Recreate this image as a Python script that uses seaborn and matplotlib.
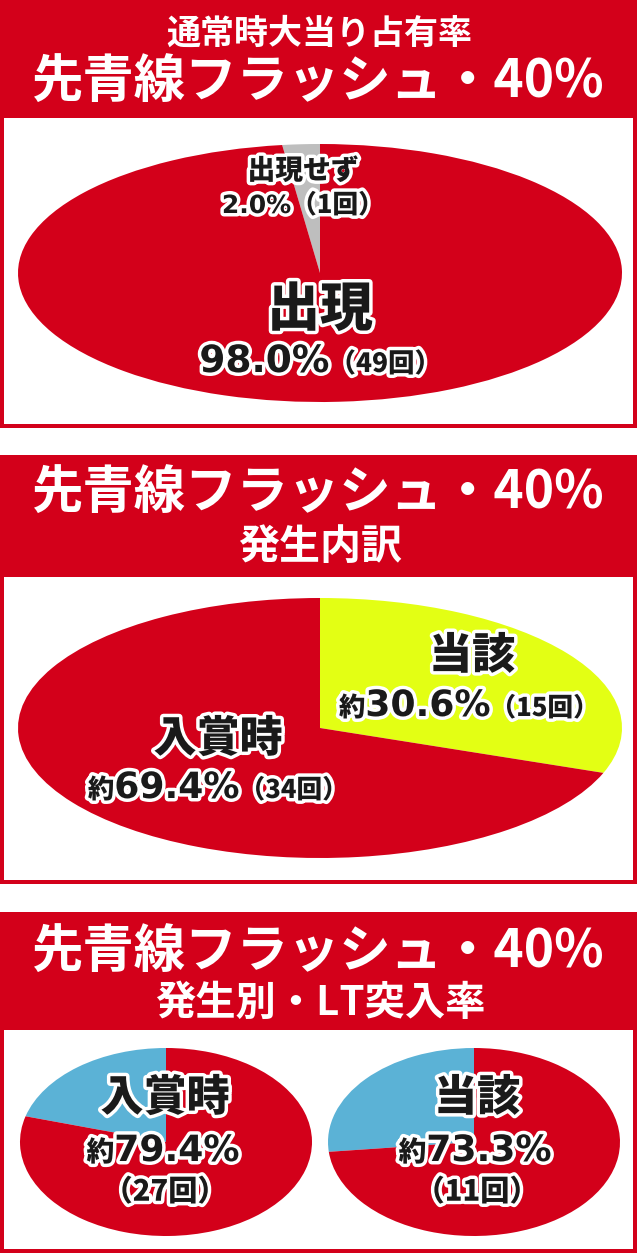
import seaborn as sns
import matplotlib.pyplot as plt
from matplotlib.patches import Rectangle
from matplotlib.offsetbox import TextArea, HPacker, AnnotationBbox
import matplotlib.patheffects as pe

# data
occ_labels = ['出現せず', '出現']
occ_counts = [1, 49]
occ_colors = ['#BEBEBE', '#D3001A']

brk_labels = ['当該', '入賞時']
brk_counts = [15, 34]
brk_colors = ['#E3FF14', '#D3001A']

lt_groups = ['入賞時', '当該']
lt_hits = [27, 11]
lt_totals = [34, 15]
lt_colors = ['#5BB2D6', '#D3001A']

title = '先青線フラッシュ・40%'
sub1 = '通常時大当り占有率'
sub2 = '発生内訳'
sub3 = '発生別・LT突入率'

sns.set_theme(style='white')
CJK = ['Noto Sans CJK JP', 'DejaVu Sans']
NUM = ['DejaVu Sans', 'Noto Sans CJK JP']
plt.rcParams['font.family'] = CJK

RED = '#D3001A'
INK = '#1A1A1A'
W, H = 640, 1255

fig = plt.figure(figsize=(W / 100, H / 100), dpi=100)
bg = fig.add_axes([0, 0, 1, 1])
bg.set_xlim(0, W)
bg.set_ylim(H, 0)
bg.axis('off')


def panel(y0, y_box, y1):
    bg.add_patch(Rectangle((0, y0), 637, y1 - y0, color=RED, lw=0))
    bg.add_patch(Rectangle((4, y_box), 629, y1 - y_box - 4, color='white', lw=0))


panel(0, 118, 428)
panel(455, 577, 884)
panel(912, 1030, 1253)


def pie_ax(cx, cy, rx, ry, values, colors, counterclock=True):
    ax = fig.add_axes([(cx - rx) / W, 1 - (cy + ry) / H, 2 * rx / W, 2 * ry / H])
    ax.pie(values, colors=colors, startangle=90, counterclock=counterclock,
           wedgeprops=dict(linewidth=0))
    ax.set_aspect('auto')
    ax.set_xlim(-1, 1)
    ax.set_ylim(-1, 1)
    ax.axis('off')
    return ax


pie_ax(320, 273, 302, 129, occ_counts, occ_colors)
pie_ax(320, 728, 302, 130, brk_counts, brk_colors, counterclock=False)
for i, cx in enumerate([166, 474]):
    pie_ax(cx, 1142, 146, 94, [lt_totals[i] - lt_hits[i], lt_hits[i]], lt_colors)

top = fig.add_axes([0, 0, 1, 1])
top.set_xlim(0, W)
top.set_ylim(H, 0)
top.axis('off')

# headers
hdr = dict(color='white', weight='bold', ha='center', va='center', family=CJK)
top.text(319, 33, sub1, fontsize=24.5, **hdr)
top.text(318, 82, title, fontsize=37, **hdr)
top.text(318, 493, title, fontsize=37, **hdr)
top.text(320, 547, sub2, fontsize=29.5, **hdr)
top.text(318, 952, title, fontsize=37, **hdr)
top.text(320, 1003, sub3, fontsize=29, **hdr)

halo = [pe.withStroke(linewidth=5, foreground='white')]


def label(x, y, parts):
    boxes = [TextArea(t, textprops=dict(fontsize=s, family=f, weight='heavy',
                                        color=INK, path_effects=halo))
             for t, s, f in parts]
    pack = HPacker(children=boxes, align='baseline', pad=0, sep=0)
    ab = AnnotationBbox(pack, (x, y), xycoords='data', frameon=False,
                        box_alignment=(0.5, 0.5), pad=0)
    top.add_artist(ab)


def pct(a, b):
    return f'{100 * a / b:.1f}%'


n_occ = sum(occ_counts)
label(303, 171, [(occ_labels[0], 20, CJK)])
label(303, 205, [(pct(occ_counts[0], n_occ), 18, NUM), (f'（{occ_counts[0]}回）', 18.5, CJK)])
label(320, 310, [(occ_labels[1], 38, CJK)])
label(320, 362, [(pct(occ_counts[1], n_occ), 27, NUM), (f'（{occ_counts[1]}回）', 19, CJK)])

n_brk = sum(brk_counts)
label(472, 656, [(brk_labels[0], 31, CJK)])
label(469, 706, [('約', 19, CJK), (pct(brk_counts[0], n_brk), 26, NUM), (f'（{brk_counts[0]}回）', 18.5, CJK)])
label(218, 739, [(brk_labels[1], 31, CJK)])
label(218, 788, [('約', 19, CJK), (pct(brk_counts[1], n_brk), 26, NUM), (f'（{brk_counts[1]}回）', 18.5, CJK)])

for i, cx in enumerate([165, 477]):
    label(cx, 1098, [(lt_groups[i], 31, CJK)])
    label(cx - 2, 1151, [('約', 20, CJK), (pct(lt_hits[i], lt_totals[i]), 26, NUM)])
    label(cx, 1192, [(f'（{lt_hits[i]}回）', 21, CJK)])

fig.savefig('out.png', dpi=100)
